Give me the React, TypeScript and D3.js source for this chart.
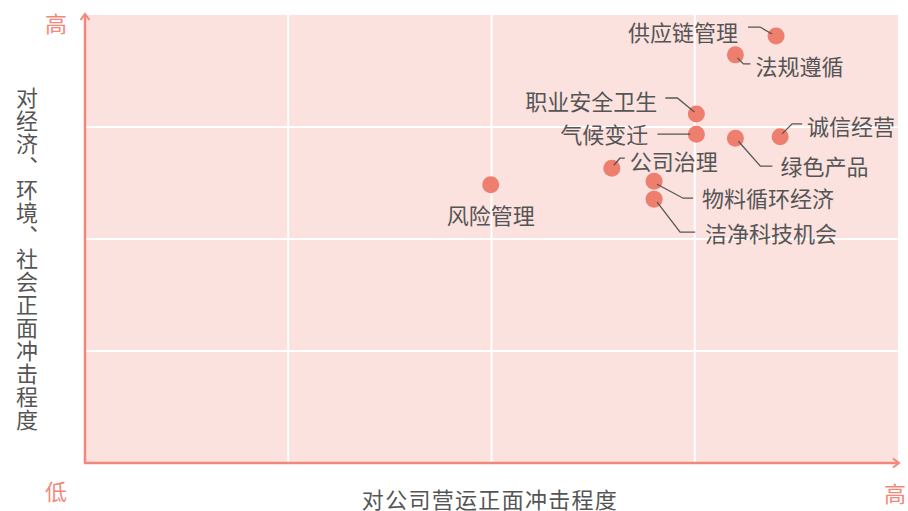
import React from "react";
import * as d3 from "d3";

const topics = ["供应链管理", "法规遵循", "职业安全卫生", "气候变迁", "绿色产品", "诚信经营", "公司治理", "物料循环经济", "洁净科技机会", "风险管理"];
const operationImpact = [85.0, 80.0, 75.2, 75.2, 80.0, 85.5, 64.8, 70.0, 70.0, 49.9];
const socialImpact = [95.3, 91.1, 77.9, 73.4, 72.5, 72.8, 65.8, 62.9, 58.9, 62.1];
const gridTicks = [25, 50, 75];

// label layout: offsets relative to point (px), anchor, leader polyline offsets
type Lay = { dx: number; dy: number; anchor: string; line: [number, number][] };
const layout: Lay[] = [
  { dx: -38, dy: -5, anchor: "end", line: [[-28, -9], [-16, -9], [-4, -2]] },
  { dx: 20, dy: 10, anchor: "start", line: [[2, 3], [8, 9], [15, 9]] },
  { dx: -39, dy: -14, anchor: "end", line: [[-31, -16], [-19, -16], [-2, -2]] },
  { dx: -48, dy: -1, anchor: "end", line: [[-39, 0], [-6, 0]] },
  { dx: 45, dy: 27, anchor: "start", line: [[3, 3], [25, 28], [37, 28]] },
  { dx: 27, dy: -12, anchor: "start", line: [[2, -3], [12, -13], [22, -13]] },
  { dx: 18, dy: -8, anchor: "start", line: [[2, -3], [8, -10], [13, -10]] },
  { dx: 48, dy: 16, anchor: "start", line: [[3, 3], [29, 17], [39, 17]] },
  { dx: 51, dy: 33, anchor: "start", line: [[3, 3], [26, 33], [41, 33]] },
  { dx: 0, dy: 29, anchor: "middle", line: [] },
];

const yTitle = "对经济、环境、社会正面冲击程度";
const xTitle = "对公司营运正面冲击程度";

export default function App() {
  const W = 908, H = 511;
  const x0 = 85, x1 = 898, y0 = 463, y1 = 15;
  const x = d3.scaleLinear().domain([0, 100]).range([x0, x1]);
  const y = d3.scaleLinear().domain([0, 100]).range([y0, y1]);
  const axisColor = "#f3887a";
  const dotColor = "#ee7e6e";
  const textColor = "#555555";
  const font = "'Noto Sans CJK SC', 'Noto Sans', sans-serif";
  const line = d3.line();
  return (
    <svg width={W} height={H} style={{ position: "absolute", left: 0, top: 0 }} fontFamily={font}>
      <rect x={x0} y={y1} width={x1 - x0} height={y0 - y1} fill="#fbe2df" />
      {gridTicks.map((t) => (
        <line key={"gx" + t} x1={x(t)} x2={x(t)} y1={y1} y2={y0} stroke="#fff" strokeWidth={2} />
      ))}
      {gridTicks.map((t) => (
        <line key={"gy" + t} x1={x0} x2={x1} y1={y(t)} y2={y(t)} stroke="#fff" strokeWidth={2} />
      ))}
      {/* axes */}
      <line x1={x0} x2={x0} y1={y0 + 1} y2={y1 - 1} stroke={axisColor} strokeWidth={2.5} />
      <line x1={x0 - 1} x2={x1 + 1} y1={y0} y2={y0} stroke={axisColor} strokeWidth={2.5} />
      <path d={`M${x0 - 4.5},${y1 + 5} L${x0},${y1 - 1} L${x0 + 4.5},${y1 + 5}`} fill="none" stroke={axisColor} strokeWidth={2} />
      <path d={`M${x1 - 5},${y0 - 4.5} L${x1 + 1},${y0} L${x1 - 5},${y0 + 4.5}`} fill="none" stroke={axisColor} strokeWidth={2} />
      <text x={56} y={22} fontSize={22} fill={axisColor} textAnchor="middle" dominantBaseline="central">高</text>
      <text x={56} y={490} fontSize={22} fill={axisColor} textAnchor="middle" dominantBaseline="central">低</text>
      <text x={895} y={492} fontSize={22} fill={axisColor} textAnchor="middle" dominantBaseline="central">高</text>
      <text x={490} y={498} fontSize={22} letterSpacing={1.3} fill={textColor} textAnchor="middle" dominantBaseline="central">{xTitle}</text>
      <text x={27} y={87} fontSize={22} fill={textColor} letterSpacing={1} style={{ writingMode: "vertical-rl" }}>{yTitle}</text>
      {topics.map((t, i) => {
        const px = x(operationImpact[i]);
        const py = y(socialImpact[i]);
        const L = layout[i];
        return (
          <g key={t}>
            <circle cx={px} cy={py} r={8.5} fill={dotColor} />
            {L.line.length > 0 && (
              <path d={line(L.line.map(([a, b]) => [px + a, py + b]) as [number, number][]) || ""} fill="none" stroke="#555" strokeWidth={1.3} />
            )}
            <text x={px + L.dx} y={py + L.dy} fontSize={22} fill={textColor} textAnchor={L.anchor} dominantBaseline="central">{t}</text>
          </g>
        );
      })}
    </svg>
  );
}
